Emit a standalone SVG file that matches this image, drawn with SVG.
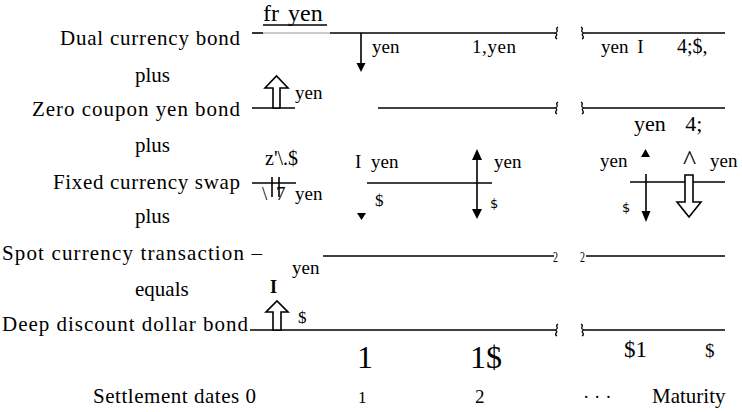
<svg xmlns="http://www.w3.org/2000/svg" width="742" height="412" viewBox="0 0 742 412" font-family="'Liberation Serif', 'Times New Roman', serif">
<style>
text{font-family:"Liberation Serif","Times New Roman",serif;fill:#000}
.lab{font-size:21px}
.sm{font-size:19px}
.sans{font-family:"DejaVu Sans","Liberation Sans",sans-serif;font-size:13px}
.ln{stroke:#000;stroke-width:1.6;fill:none}
.lt{stroke:#bbb;stroke-width:1.4;fill:none}
.sq{stroke:#000;stroke-width:1.3;fill:none}
.tri{fill:#000;stroke:none}
.hol{fill:#fff;stroke:#000;stroke-width:1.6;stroke-linejoin:miter}
</style>
<g id="labels">
<text class="lab" x="60" y="45" textLength="180" lengthAdjust="spacing">Dual currency bond</text>
<text class="lab" x="135" y="82">plus</text>
<text class="lab" x="32" y="116" textLength="208" lengthAdjust="spacing">Zero coupon yen bond</text>
<text class="lab" x="135" y="152">plus</text>
<text class="lab" x="53" y="189" textLength="187" lengthAdjust="spacing">Fixed currency swap</text>
<text class="lab" x="135" y="223">plus</text>
<text class="lab" x="2" y="260" textLength="260" lengthAdjust="spacing">Spot currency transaction –</text>
<text class="lab" x="135" y="296">equals</text>
<text class="lab" x="2" y="331" textLength="246" lengthAdjust="spacing">Deep discount dollar bond</text>
<text class="lab" x="93" y="403" textLength="163" lengthAdjust="spacing">Settlement dates 0</text>
<text x="358" y="403" style="font-size:17px">1</text>
<text class="sm" x="475" y="403">2</text>
<text class="sm" x="583" y="403">· · ·</text>
<text class="lab" x="652" y="403">Maturity</text>
</g>
<g id="dual-currency-bond">
<text x="263" y="21" style="font-size:24px;word-spacing:3px">fr yen</text>
<line class="ln" x1="263" y1="25" x2="327" y2="25"/>
<text class="sm" x="372" y="53">yen</text>
<text class="sm" x="472" y="53" textLength="44" lengthAdjust="spacing">1,yen</text>
<text class="sm" x="601" y="53" style="word-spacing:4px">yen I</text>
<text x="677" y="53" style="font-size:20px">4;$,</text>
</g>
<g id="zero-coupon-yen-bond">
<text class="sm" x="295" y="99">yen</text>
<text x="634" y="131" style="font-size:22px;word-spacing:14px">yen 4;</text>
</g>
<g id="fixed-currency-swap">
<text class="sm" x="265" y="165" style="font-size:20px">z'\.$</text>
<text class="sm" x="262" y="200">\</text>
<text class="sm" x="276" y="200">7</text>
<text class="sm" x="295" y="200">yen</text>
<text class="sm" x="355" y="168" style="word-spacing:5px">I yen</text>
<text x="375" y="206" style="font-size:17px">$</text>
<text class="sm" x="494" y="168">yen</text>
<text class="sans" x="490" y="208">$</text>
<text class="sm" x="600" y="167">yen</text>
<text class="sans" x="622" y="212">$</text>
<text x="683" y="169" style="font-size:28px">^</text>
<text class="sm" x="710" y="167">yen</text>
</g>
<g id="spot-currency-transaction">
<text class="sm" x="292" y="274">yen</text>
<text x="270" y="293" style="font-size:18px;font-weight:bold">I</text>
<text x="553" y="262" style="font-size:15px" textLength="5" lengthAdjust="spacingAndGlyphs">2</text>
<text x="580" y="262" style="font-size:15px" textLength="5" lengthAdjust="spacingAndGlyphs">2</text>
</g>
<g id="deep-discount-dollar-bond">
<text x="298" y="323" style="font-size:17px">$</text>
<text x="357" y="368" style="font-size:32px">1</text>
<text x="470" y="368" style="font-size:32px">1$</text>
<text x="624" y="357" style="font-size:23px">$1</text>
<text x="705" y="357" style="font-size:19px">$</text>
</g>
<g id="connectors">
<line class="ln" x1="252" y1="33" x2="263" y2="33"/>
<line class="lt" x1="263" y1="33" x2="330" y2="33"/>
<line class="ln" x1="330" y1="33" x2="555" y2="33"/>
<path class="sq" d="M555,33 q3,-1 2,-3 q-1,-2 1,-3 M555,33 q3,1 1,3 q-1,2 1,3"/>
<path class="sq" d="M584,33 q-3,-1 -2,-3 q1,-2 -1,-3 M584,33 q-3,1 -1,3 q1,2 -1,3"/>
<line class="ln" x1="584" y1="33" x2="725" y2="33"/>
<line class="ln" x1="361" y1="33" x2="361" y2="64"/>
<polygon class="tri" points="356.5,63 365.5,63 361,72"/>
<line class="ln" x1="252" y1="108" x2="295" y2="108"/>
<polygon class="hol" points="273,108 273,88 265,88 276.5,76 288,88 280,88 280,108"/>
<line class="ln" x1="378" y1="108" x2="555" y2="108"/>
<path class="sq" d="M555,108 q3,-1 2,-3 q-1,-2 1,-3 M555,108 q3,1 1,3 q-1,2 1,3"/>
<path class="sq" d="M584,108 q-3,-1 -2,-3 q1,-2 -1,-3 M584,108 q-3,1 -1,3 q1,2 -1,3"/>
<line class="ln" x1="584" y1="108" x2="725" y2="108"/>
<line class="ln" x1="252" y1="183" x2="296" y2="183"/>
<line class="ln" x1="272" y1="177" x2="272" y2="197"/>
<line class="ln" x1="279" y1="177" x2="279" y2="197"/>
<line class="ln" x1="367" y1="183" x2="492" y2="183"/>
<polygon class="tri" points="357,213 366,213 361.5,220"/>
<line class="ln" x1="477" y1="158" x2="477" y2="211"/>
<polygon class="tri" points="472,160 482,160 477,149"/>
<polygon class="tri" points="472,209 482,209 477,219"/>
<line class="ln" x1="630" y1="182" x2="725" y2="182"/>
<polygon class="tri" points="641,157 650,157 645.5,149"/>
<line class="ln" x1="646" y1="174" x2="646" y2="213"/>
<polygon class="tri" points="641.5,211 650.5,211 646,222"/>
<polygon class="hol" points="685,175 685,202 677,202 689,217 701,202 693,202 693,175"/>
<line class="ln" x1="323" y1="256" x2="554" y2="256"/>
<line class="ln" x1="586" y1="256" x2="725" y2="256"/>
<line class="ln" x1="250" y1="330" x2="555" y2="330"/>
<polygon class="hol" points="273,330 273,312 266,312 277,301 288,312 281,312 281,330"/>
<path class="sq" d="M555,330 q3,-1 2,-3 q-1,-2 1,-3 M555,330 q3,1 1,3 q-1,2 1,3"/>
<path class="sq" d="M584,330 q-3,-1 -2,-3 q1,-2 -1,-3 M584,330 q-3,1 -1,3 q1,2 -1,3"/>
<line class="ln" x1="584" y1="330" x2="725" y2="330"/>
</g>
</svg>
